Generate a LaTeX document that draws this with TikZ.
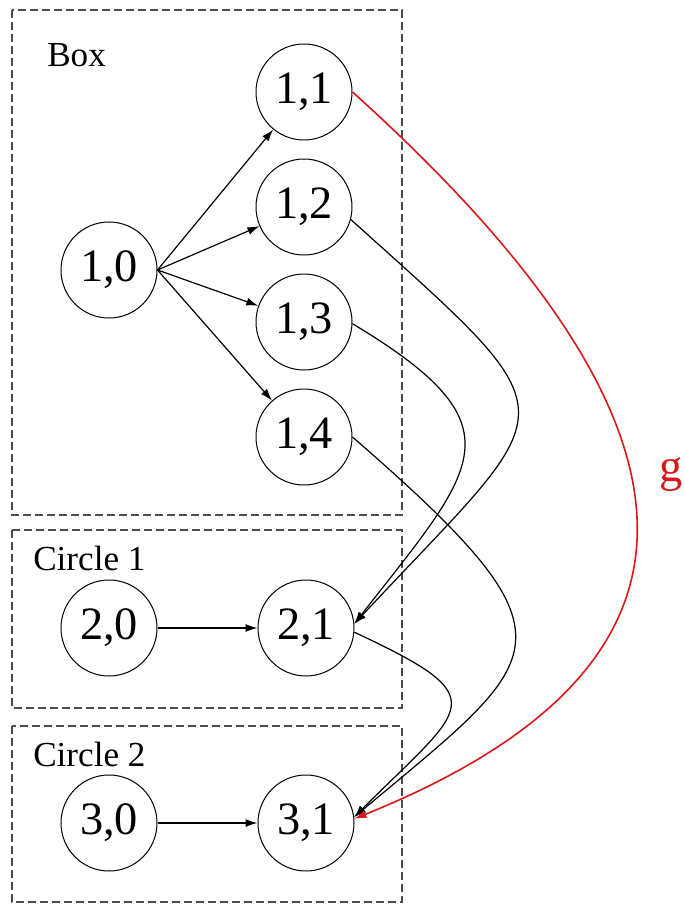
\documentclass[tikz,border=0pt]{standalone}
\usepackage{fontspec}
\setmainfont{Liberation Serif}
\usepackage{tikz}
\usetikzlibrary{arrows.meta, positioning}
\definecolor{myred}{rgb}{0.85, 0.10, 0.10}
\definecolor{mygray}{rgb}{0.30, 0.30, 0.30}
\tikzstyle{state} = [circle, draw=black, line width=0.25mm, minimum size=24mm, inner sep=0pt, font=\fontsize{33}{36}\selectfont]
\tikzstyle{group} = [draw=mygray, line width=0.3mm, dash pattern=on 2mm off 1mm]
\tikzstyle{title} = [anchor=base west, inner sep=0pt, font=\fontsize{25}{30}\selectfont]
\tikzstyle{arrow} = [line width=0.3mm, -{Latex[length=3mm,width=2mm]}]

\begin{document}
\begin{tikzpicture}[x=0.25mm, y=-0.25mm]
\useasboundingbox (0,0) rectangle (685,906);

% dashed groups
\draw[group] (12,10) rectangle (402,515);
\draw[group] (12,530) rectangle (402,708);
\draw[group] (12,726) rectangle (402,902);

\node[title] (boxlabel) at (47,67) {Box};
\node[title] (c1label) at (33,570) {Circle 1};
\node[title] (c2label) at (33,766) {Circle 2};

% box
\node[state] (n11) at (304,92) {1,1};
\node[state, below=4.5mm of n11] (n12) {1,2};
\node[state, below=4.5mm of n12] (n13) {1,3};
\node[state, below=4.5mm of n13] (n14) {1,4};
\node[state] (n10) at (109,270) {1,0};

% circle 1 and circle 2
\node[state] (n20) at (109,628) {2,0};
\node[state, right=25mm of n20] (n21) {2,1};
\node[state] (n30) at (109,823) {3,0};
\node[state, right=25mm of n30] (n31) {3,1};

\foreach \i in {1,...,4}
  \draw[arrow] (n10.east) -- (n1\i);
\draw[arrow] (n20) -- (n21);
\draw[arrow] (n30) -- (n31);

\draw[arrow] (n12.-15) to[out=-42, in=47, looseness=1.95] (n21.5);
\draw[arrow] (n13.-2) to[out=-31, in=52, looseness=1.7] (n21.5);
\draw[arrow] (n14.0) to[out=-41, in=40, out looseness=2.1, in looseness=1.7] (n31.7);
\draw[arrow] (n21.-5) to[out=-25, in=45, looseness=2.2] (n31.7);
\draw[arrow, myred, line width=0.4mm] (n11.0) to[out=-42, in=22, out looseness=2.05, in looseness=1.2] (n31.5);

\node[text=myred, anchor=base west, inner sep=0pt, font=\fontsize{33}{36}\selectfont] (glabel) at (659,481) {g};
\end{tikzpicture}
\end{document}
